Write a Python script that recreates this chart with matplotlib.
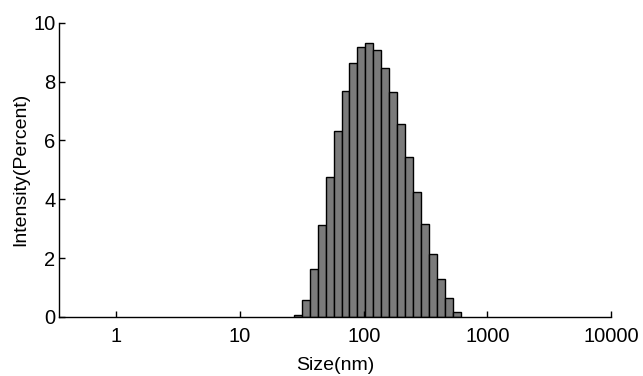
import matplotlib
matplotlib.use("Agg")
import matplotlib.pyplot as plt
import numpy as np

plt.rcParams['font.family'] = ['Liberation Sans', 'DejaVu Sans']

# Bin centre sizes (nm) and intensity (%)
sizes = [29.2, 33.9, 39.3, 45.6, 52.9, 61.4, 71.2, 82.6, 95.8, 111.2, 129.0,
         149.6, 173.6, 201.4, 233.6, 271.0, 314.5, 364.8, 423.2, 490.9, 569.6]
intensity = [0.07, 0.58, 1.63, 3.13, 4.77, 6.33, 7.69, 8.64, 9.18, 9.32, 9.07,
             8.45, 7.64, 6.57, 5.45, 4.26, 3.15, 2.13, 1.28, 0.63, 0.18]
bin_log_width = 0.0645

xticks = [1, 10, 100, 1000, 10000]
xtick_labels = ["1", "10", "100", "1000", "10000"]
yticks = [0, 2, 4, 6, 8, 10]

fig = plt.figure(figsize=(6.43, 3.76), dpi=100)
ax = fig.add_axes([0.0925, 0.157, 0.858, 0.7827])

c = np.array(sizes)
lo = c * 10 ** (-bin_log_width / 2)
hi = c * 10 ** (bin_log_width / 2)
ax.bar(lo, np.array(intensity), width=hi - lo, align='edge',
       color='#7b7b7b', edgecolor='black', linewidth=1.0)

ax.set_xscale('log')
ax.set_xlim(0.347, 10000)
ax.set_ylim(0, 10)
ax.set_xticks(xticks)
ax.set_xticklabels(xtick_labels)
ax.xaxis.set_minor_locator(matplotlib.ticker.NullLocator())
ax.set_yticks(yticks)

for s in ['top', 'right']:
    ax.spines[s].set_visible(False)
for s in ['left', 'bottom']:
    ax.spines[s].set_linewidth(1.0)

ax.tick_params(axis='both', direction='in', length=4.5, width=1.0,
               labelsize=14.5)
ax.tick_params(axis='x', pad=7)
ax.tick_params(axis='y', pad=3)
ax.set_xlabel('Size(nm)', fontsize=14, labelpad=8)
ax.set_ylabel('Intensity(Percent)', fontsize=14, labelpad=3)

fig.savefig('out.png', dpi=100)
